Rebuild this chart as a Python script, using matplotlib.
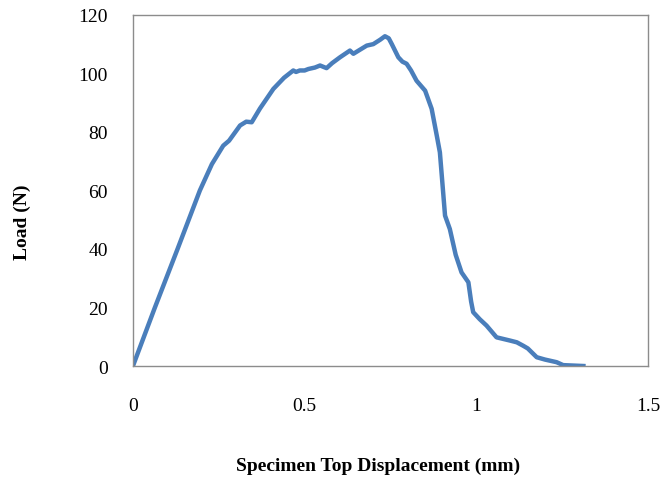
import numpy as np
import matplotlib.pyplot as plt

# Specimen top displacement (mm) and load (N)
disp = [0, 0.064, 0.13, 0.195, 0.23, 0.263, 0.28, 0.312, 0.33, 0.346, 0.37,
        0.409, 0.44, 0.467, 0.475, 0.486, 0.50, 0.511, 0.53, 0.545, 0.564,
        0.58, 0.603, 0.632, 0.642, 0.66, 0.681, 0.70, 0.72, 0.734, 0.745,
        0.754, 0.773, 0.785, 0.797, 0.81, 0.826, 0.851, 0.870, 0.885, 0.894,
        0.909, 0.923, 0.94, 0.957, 0.977, 0.985, 0.991, 1.01, 1.030, 1.059,
        1.098, 1.118, 1.137, 1.15, 1.176, 1.20, 1.234, 1.253, 1.312]
load = [0, 20, 40, 60, 69, 75.3, 77, 82.2, 83.5, 83.3, 88,
        94.7, 98.5, 101, 100.5, 101, 101, 101.5, 102, 102.7, 101.8,
        103.5, 105.5, 107.8, 106.7, 108, 109.5, 110, 111.5, 112.7, 112,
        110, 105.5, 104, 103.3, 101, 97.5, 94.1, 87.9, 78.7, 73,
        51.4, 46.8, 38, 32, 28.6, 22, 18.4, 16, 13.8, 9.8,
        8.7, 8.1, 6.9, 6.0, 3.0, 2.2, 1.3, 0.3, 0]

x_ticks = [0, 0.5, 1, 1.5]
y_ticks = [0, 20, 40, 60, 80, 100, 120]

plt.rcParams['font.family'] = ['Liberation Serif', 'DejaVu Serif']

fig = plt.figure(figsize=(6.68, 4.81), dpi=100)
ax = fig.add_axes([0.199, 0.237, 0.771, 0.730])

ax.plot(disp, load, color="#4A7EBB", linewidth=3.2, solid_joinstyle="round")

ax.set_xlim(0, 1.5)
ax.set_ylim(0, 120)
ax.set_xticks(x_ticks)
ax.set_xticklabels(["0", "0.5", "1", "1.5"])
ax.set_yticks(y_ticks)
ax.tick_params(length=0, labelsize=14)
ax.tick_params(axis="x", pad=22)
ax.tick_params(axis="y", pad=18)
for s in ax.spines.values():
    s.set_color("#8c8c8c")
    s.set_linewidth(1)

ax.set_xlabel("Specimen Top Displacement (mm)", fontsize=14, fontweight="bold", va="center")
ax.xaxis.set_label_coords(0.475, -0.282)
ax.set_ylabel("Load (N)", fontsize=14, fontweight="bold", va="center")
ax.yaxis.set_label_coords(-0.215, 0.413)

fig.savefig("out.png", dpi=100)
